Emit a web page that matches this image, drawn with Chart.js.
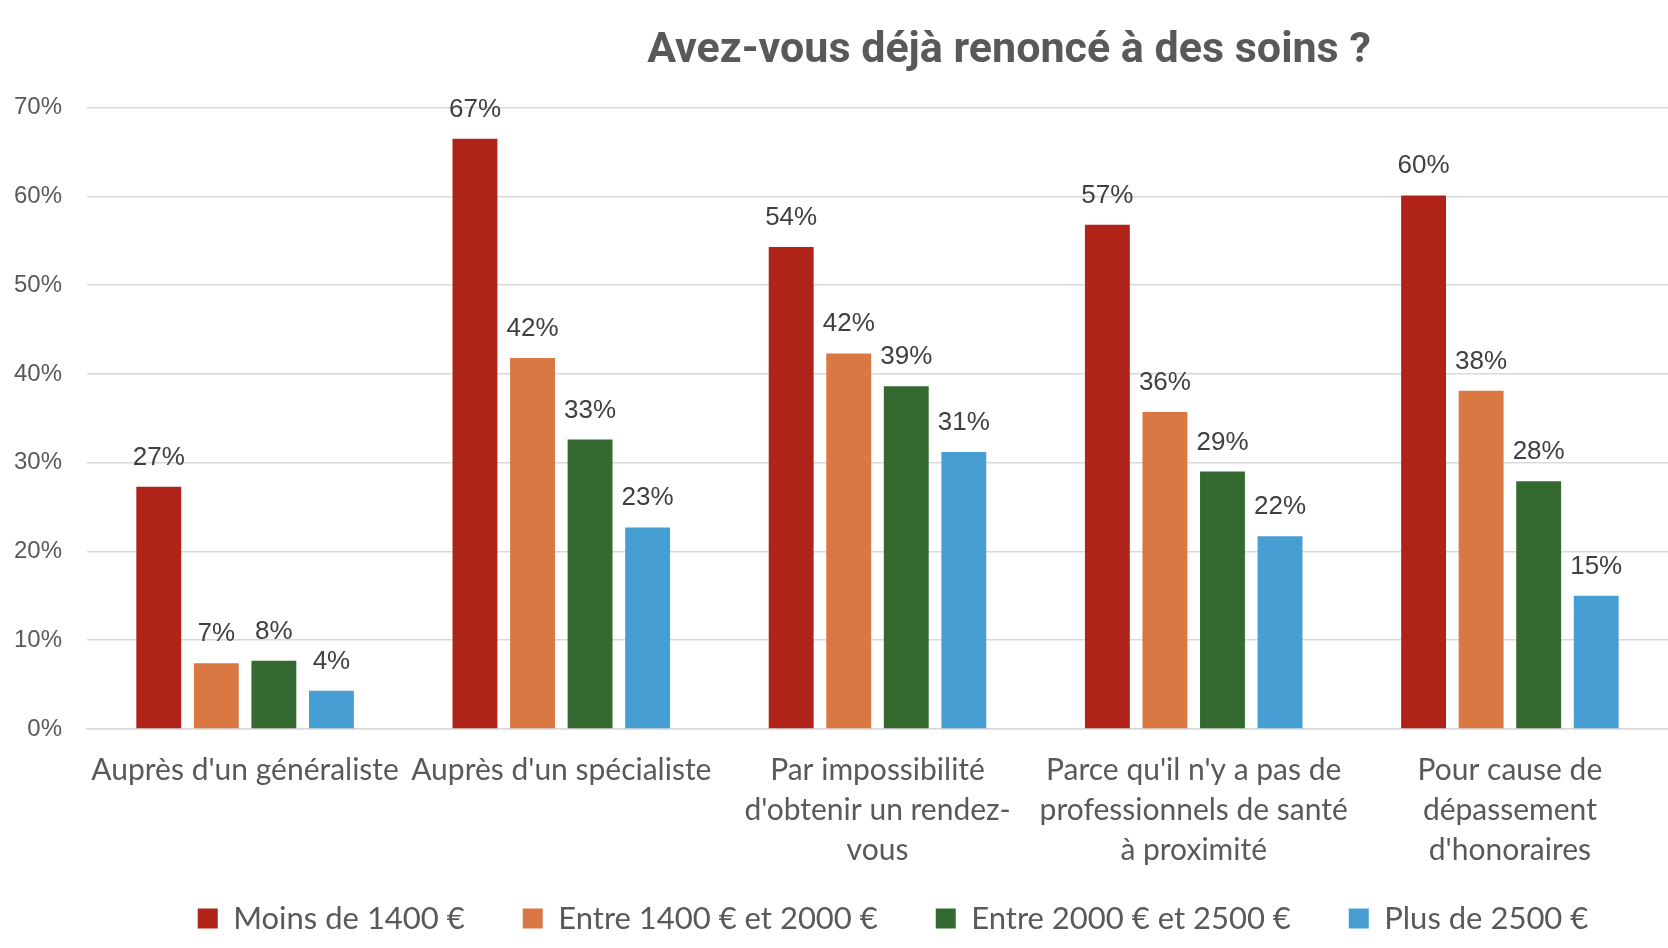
<!DOCTYPE html>
<html lang="fr">
<head>
    <meta charset="UTF-8">
    <script src="https://cdn.jsdelivr.net/npm/chart.js@4"></script>
    <title>Avez-vous déjà renoncé à des soins ?</title>
    <style>
        body { margin: 0; background: #fff; }
        .chart-container { width: 1668px; height: 948px; }
    </style>
</head>
<body>
<div class="chart-container">
    <canvas id="myChart"></canvas>
</div>

<script>
    // Data (percent)
    const categories = [
        "Auprès d'un généraliste",
        "Auprès d'un spécialiste",
        ["Par impossibilité", "d'obtenir un rendez-", "vous"],
        ["Parce qu'il n'y a pas de", "professionnels de santé", "à proximité"],
        ["Pour cause de", "dépassement", "d'honoraires"]
    ];
    const seriesNames = ["Moins de 1400 €", "Entre 1400 € et 2000 €", "Entre 2000 € et 2500 €", "Plus de 2500 €"];
    const lessThan1400 = [27.3, 66.5, 54.3, 56.8, 60.1];
    const from1400to2000 = [7.4, 41.8, 42.3, 35.7, 38.1];
    const from2000to2500 = [7.7, 32.6, 38.6, 29.0, 27.9];
    const moreThan2500 = [4.3, 22.7, 31.2, 21.7, 15.0];
    const yTicks = [0, 10, 20, 30, 40, 50, 60, 70];

    const colors = ["#AF2318", "#DA7843", "#346A2F", "#479ED3"];
    const allSeries = [lessThan1400, from1400to2000, from2000to2500, moreThan2500];

    // value labels above each bar
    const barLabels = {
        id: 'barLabels',
        afterDatasetsDraw(chart) {
            const ctx = chart.ctx;
            ctx.save();
            ctx.font = "26px 'Liberation Sans', Arial, sans-serif";
            ctx.fillStyle = "#404040";
            ctx.textAlign = "center";
            ctx.textBaseline = "alphabetic";
            chart.data.datasets.forEach((ds, i) => {
                chart.getDatasetMeta(i).data.forEach((bar, j) => {
                    ctx.fillText(Math.round(ds.data[j]) + "%", bar.x, bar.y - 22);
                });
            });
            ctx.restore();
        }
    };

    // title and legend sit right of the canvas centre in the original,
    // and the 3-line category labels run down into the legend's empty top
    const shiftBoxes = {
        id: 'shiftBoxes',
        afterLayout(chart) {
            chart.titleBlock.left += 165;
            chart.titleBlock.right += 165;
            chart.legend.left += 49;
            chart.legend.right += 49;
            chart.scales.x.bottom = chart.height;
        }
    };

    const ctx = document.getElementById("myChart").getContext("2d");
    const chart = new Chart(ctx, {
        type: "bar",
        data: {
            labels: categories,
            datasets: allSeries.map((values, i) => ({
                label: seriesNames[i],
                data: values,
                backgroundColor: colors[i],
                borderWidth: 0,
                categoryPercentage: 0.728,
                barPercentage: 0.78
            }))
        },
        options: {
            responsive: true,
            maintainAspectRatio: false,
            animation: false,
            layout: { padding: { left: 13, right: -7, top: 0, bottom: 4 } },
            plugins: {
                title: {
                    display: true,
                    text: "Avez-vous déjà renoncé à des soins ?",
                    color: "#595959",
                    font: { family: "Roboto, 'Liberation Sans', sans-serif", size: 43, weight: "bold" },
                    padding: { top: 25, bottom: 31 }
                },
                legend: {
                    position: "bottom",
                    labels: {
                        boxWidth: 20,
                        boxHeight: 20,
                        padding: 58,
                        color: "#595959",
                        font: { family: "Lato, 'Noto Sans', sans-serif", size: 31 }
                    }
                },
                tooltip: { enabled: false }
            },
            scales: {
                x: {
                    grid: { display: false },
                    border: { display: true, color: "#d9d9d9", width: 1.5 },
                    ticks: {
                        color: "#595959",
                        padding: 13,
                        maxRotation: 0,
                        autoSkip: false,
                        font: { family: "Lato, 'Noto Sans', sans-serif", size: 30, lineHeight: "40px" }
                    },
                    afterFit(scale) { scale.height = 116; }
                },
                y: {
                    min: yTicks[0],
                    max: yTicks[yTicks.length - 1],
                    afterBuildTicks(scale) { scale.ticks = yTicks.map(v => ({ value: v })); },
                    afterFit(scale) { scale.width = 74; },
                    grid: { color: "#d9d9d9", lineWidth: 1.5, drawTicks: false },
                    border: { display: false },
                    ticks: {
                        color: "#595959",
                        padding: 25,
                        font: { family: "'Liberation Sans', Arial, sans-serif", size: 24 },
                        callback: v => v + "%"
                    }
                }
            }
        },
        plugins: [barLabels, shiftBoxes]
    });
</script>
</body>
</html>
